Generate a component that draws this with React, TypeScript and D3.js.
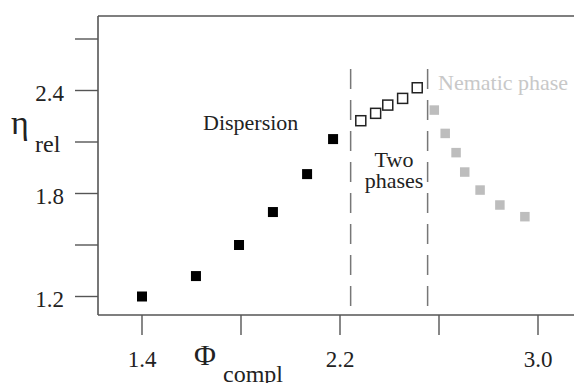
import React from "react";
import * as d3 from "d3";

// Data
const dispersionX = [1.4, 1.618, 1.792, 1.929, 2.067, 2.172];
const dispersionY = [1.2, 1.319, 1.5, 1.692, 1.913, 2.117];
const twoPhaseX = [2.284, 2.344, 2.393, 2.453, 2.512];
const twoPhaseY = [2.224, 2.267, 2.315, 2.354, 2.416];
const nematicX = [2.581, 2.625, 2.669, 2.704, 2.766, 2.846, 2.947];
const nematicY = [2.286, 2.15, 2.038, 1.925, 1.82, 1.733, 1.665];
const phaseBoundaries = [2.243, 2.554];
const boundaryRange = [1.145, 2.525];
const xTicks = [1.4, 1.8, 2.2, 2.6, 3.0];
const xTickLabels = ["1.4", "", "2.2", "", "3.0"];
const yTicks = [1.2, 1.5, 1.8, 2.1, 2.4, 2.7];
const yTickLabels = ["1.2", "", "1.8", "", "2.4", ""];

const W = 574;
const H = 383;
const plotLeft = 98;
const plotTop = 16;
const plotRight = 574;
const plotBottom = 315;

const FONT = '"Liberation Serif", serif';

function T(props: any) {
  const { style, ...rest } = props;
  return <text {...rest} style={{ fontFamily: FONT, ...(style || {}) }} />;
}

export default function App() {
  const x = d3.scaleLinear().domain([1.4, 3.0]).range([142, 538]);
  const y = d3.scaleLinear().domain([1.2, 2.4]).range([296.5, 90.5]);
  const axisColor = "#555";
  const s = 10;
  const sg = 9.5;

  return (
    <svg width={W} height={H} style={{ position: "absolute", left: 0, top: 0, background: "#fff" }}>
      {/* axes frame */}
      <line x1={plotLeft} y1={plotTop} x2={plotRight} y2={plotTop} stroke={axisColor} strokeWidth={1.6} />
      <line x1={plotLeft} y1={plotTop} x2={plotLeft} y2={plotBottom} stroke={axisColor} strokeWidth={1.6} />
      <line x1={plotLeft} y1={plotBottom} x2={plotRight} y2={plotBottom} stroke={axisColor} strokeWidth={1.6} />

      {/* y ticks */}
      {yTicks.map((t, i) => (
        <g key={"yt" + i}>
          <line x1={plotLeft - 23} x2={plotLeft} y1={y(t)} y2={y(t)} stroke={axisColor} strokeWidth={1.4} />
          {yTickLabels[i] && (
            <T x={64} y={y(t) + 10} textAnchor="end" fontSize={23} fill="#222">
              {yTickLabels[i]}
            </T>
          )}
        </g>
      ))}

      {/* x ticks */}
      {xTicks.map((t, i) => (
        <g key={"xt" + i}>
          <line x1={x(t)} x2={x(t)} y1={plotBottom} y2={plotBottom + 20} stroke={axisColor} strokeWidth={1.4} />
          {xTickLabels[i] && (
            <T x={x(t)} y={367} textAnchor="middle" fontSize={23} fill="#222">
              {xTickLabels[i]}
            </T>
          )}
        </g>
      ))}

      {/* axis titles */}
      <T x={11} y={134} fontSize={34} fill="#222">η</T>
      <T x={35} y={152} fontSize={24} fill="#222">rel</T>
      <T x={194} y={365} fontSize={30} fill="#222">Φ</T>
      <T x={223} y={382} fontSize={24} fill="#222">compl</T>

      {/* phase boundaries */}
      {phaseBoundaries.map((b, i) => (
        <line
          key={"pb" + i}
          x1={x(b)}
          x2={x(b)}
          y1={y(boundaryRange[1])}
          y2={y(boundaryRange[0])}
          stroke="#777"
          strokeWidth={1.5}
          strokeDasharray="20 11"
        />
      ))}

      {/* dispersion points */}
      {dispersionX.map((v, i) => (
        <rect key={"d" + i} x={x(v) - s / 2} y={y(dispersionY[i]) - s / 2} width={s} height={s} fill="#000" />
      ))}

      {/* two-phase points */}
      {twoPhaseX.map((v, i) => (
        <rect
          key={"t" + i}
          x={x(v) - s / 2}
          y={y(twoPhaseY[i]) - s / 2}
          width={s}
          height={s}
          fill="#fff"
          stroke="#222"
          strokeWidth={1.5}
        />
      ))}

      {/* nematic points */}
      {nematicX.map((v, i) => (
        <rect key={"n" + i} x={x(v) - sg / 2} y={y(nematicY[i]) - sg / 2} width={sg} height={sg} fill="#bdbdbd" />
      ))}

      {/* region labels */}
      <T x={203} y={130} fontSize={22} fill="#222">Dispersion</T>
      <T x={394} y={167} fontSize={22} fill="#222" textAnchor="middle">Two</T>
      <T x={394} y={188} fontSize={22} fill="#222" textAnchor="middle">phases</T>
      <T x={438} y={90} fontSize={22} fill="#c8c8c8">Nematic phase</T>
    </svg>
  );
}
